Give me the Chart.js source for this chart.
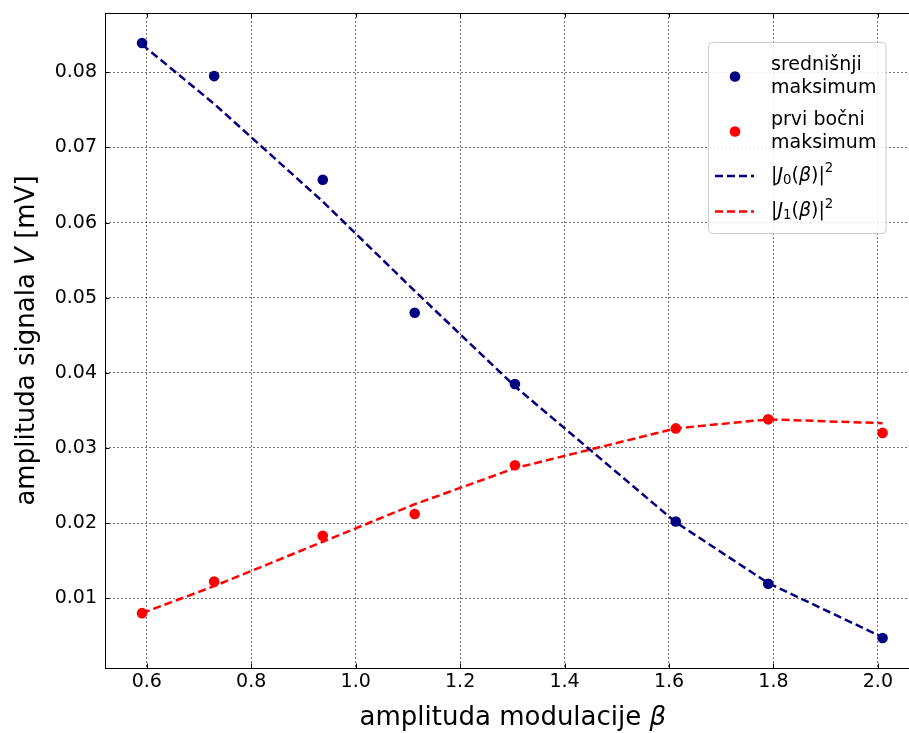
<!DOCTYPE html>
<html>
<head>
<meta charset="utf-8">
<script src="https://cdn.jsdelivr.net/npm/chart.js@4.4.1/dist/chart.umd.min.js"></script>
<style>
  html, body { margin: 0; padding: 0; background: #fff; overflow: hidden; }
  canvas { display: block; }
</style>
</head>
<body>
<canvas id="graf" width="926" height="733"></canvas>
<script>
// amplituda signala u ovisnosti o amplitudi modulacije beta
const beta = [0.591, 0.729, 0.937, 1.113, 1.305, 1.613, 1.790, 2.009];
const srednjiMaks = [0.0839, 0.0795, 0.0657, 0.0480, 0.0385, 0.0202, 0.0119, 0.0047];
const prviBocni = [0.0080, 0.0122, 0.0183, 0.0212, 0.0277, 0.0326, 0.0338, 0.0320];
const j0kvadrat = [0.0837, 0.0758, 0.0628, 0.0509, 0.0382, 0.0201, 0.0120, 0.0048];
const j1kvadrat = [0.0080, 0.0116, 0.0175, 0.0225, 0.0273, 0.0326, 0.0338, 0.0333];

const xTicks = [0.6, 0.8, 1.0, 1.2, 1.4, 1.6, 1.8, 2.0];
const yTicks = [0.01, 0.02, 0.03, 0.04, 0.05, 0.06, 0.07, 0.08];
const oznake = ["srednišnji\nmaksimum", "prvi bočni\nmaksimum", "|J₀(β)|²", "|J₁(β)|²"];

const PLAVA = "#000080";
const CRVENA = "#ff0000";
const FONT = "'DejaVu Sans', sans-serif";

const tocke = (ys) => beta.map((b, i) => ({ x: b, y: ys[i] }));

// tekst s kurzivom, indeksom i eksponentom (kao matplotlib mathtext)
function bogatiTekst(ctx, dijelovi, x, y, vel) {
  let cx = x;
  for (const d of dijelovi) {
    const s = d.sub || d.sup ? vel * 0.7 : vel;
    ctx.font = (d.it ? "italic " : "") + s + "px " + FONT;
    const dy = d.sub ? vel * 0.22 : d.sup ? -vel * 0.38 : 0;
    ctx.fillText(d.t, cx, y + dy);
    cx += ctx.measureText(d.t).width;
  }
}

function besselDijelovi(n) {
  return [{ t: "|" }, { t: "J", it: true }, { t: n, sub: true }, { t: "(" },
          { t: "β", it: true }, { t: ")|" }, { t: "2", sup: true }];
}

const okvir = {
  id: "okvir",
  afterDatasetsDraw(chart) {
    const { ctx, chartArea: a } = chart;
    ctx.save();
    ctx.strokeStyle = "#000";
    ctx.lineWidth = 1;
    ctx.strokeRect(a.left + 0.5, a.top + 0.5, a.right - a.left, a.bottom - a.top);
    // unutarnje crtice
    const xs = chart.scales.x, ys = chart.scales.y, L = 4.5;
    ctx.beginPath();
    xTicks.forEach((v) => {
      const p = Math.round(xs.getPixelForValue(v)) + 0.5;
      ctx.moveTo(p, a.bottom); ctx.lineTo(p, a.bottom - L);
      ctx.moveTo(p, a.top); ctx.lineTo(p, a.top + L);
    });
    yTicks.forEach((v) => {
      const p = Math.round(ys.getPixelForValue(v)) + 0.5;
      ctx.moveTo(a.left, p); ctx.lineTo(a.left + L, p);
      ctx.moveTo(a.right, p); ctx.lineTo(a.right - L, p);
    });
    ctx.stroke();
    ctx.restore();
  },
  afterDraw(chart) {
    const { ctx } = chart;
    ctx.save();
    // legenda
    const lx = 708.5, ly = 42.5, lw = 177.5, lh = 191;
    ctx.beginPath();
    ctx.roundRect(lx, ly, lw, lh, 4);
    ctx.fillStyle = "rgba(255,255,255,0.85)";
    ctx.fill();
    ctx.strokeStyle = "#cccccc";
    ctx.lineWidth = 1;
    ctx.stroke();

    const mx = 735, tx = 771;
    ctx.textBaseline = "middle";
    ctx.textAlign = "left";
    ctx.fillStyle = "#000";
    ctx.font = "19px " + FONT;
    [[PLAVA, 76.5], [CRVENA, 131.5]].forEach(([boja, cy], i) => {
      ctx.fillStyle = boja;
      ctx.beginPath(); ctx.arc(mx, cy, 5.3, 0, Math.PI * 2); ctx.fill();
      ctx.fillStyle = "#000";
      oznake[i].split("\n").forEach((r, k) => ctx.fillText(r, tx, cy - 11.5 + k * 23));
    });
    [[PLAVA, 176, "0"], [CRVENA, 211.5, "1"]].forEach(([boja, cy, n]) => {
      ctx.strokeStyle = boja;
      ctx.lineWidth = 2.5;
      ctx.setLineDash([8, 4]);
      ctx.beginPath(); ctx.moveTo(715, cy); ctx.lineTo(754, cy); ctx.stroke();
      ctx.setLineDash([]);
      ctx.fillStyle = "#000";
      bogatiTekst(ctx, besselDijelovi(n), tx, cy, 19);
    });

    // naslovi osi
    ctx.fillStyle = "#000";
    ctx.textAlign = "left";
    const a = chart.chartArea;
    const t1 = "amplituda modulacije ";
    ctx.font = "26px " + FONT;
    const w1 = ctx.measureText(t1).width;
    ctx.font = "italic 26px " + FONT;
    const w2 = ctx.measureText("β").width;
    const x0 = (a.left + a.right) / 2 - (w1 + w2) / 2;
    bogatiTekst(ctx, [{ t: t1 }, { t: "β", it: true }], x0, 718, 26);

    ctx.translate(27, (a.top + a.bottom) / 2);
    ctx.rotate(-Math.PI / 2);
    const dijelovi = [{ t: "amplituda signala " }, { t: "V", it: true }, { t: " [mV]" }];
    let w = 0;
    dijelovi.forEach((d) => { ctx.font = (d.it ? "italic " : "") + "26px " + FONT; w += ctx.measureText(d.t).width; });
    bogatiTekst(ctx, dijelovi, -w / 2, 0, 26);
    ctx.restore();
  },
};

new Chart(document.getElementById("graf"), {
  type: "scatter",
  data: {
    datasets: [
      { label: oznake[0], data: tocke(srednjiMaks), backgroundColor: PLAVA, borderWidth: 0, pointRadius: 5.3, order: 1 },
      { label: oznake[1], data: tocke(prviBocni), backgroundColor: CRVENA, borderWidth: 0, pointRadius: 5.3, order: 1 },
      { label: oznake[2], data: tocke(j0kvadrat), showLine: true, borderColor: PLAVA, borderWidth: 2.5,
        borderDash: [8, 4], pointRadius: 0, order: 2 },
      { label: oznake[3], data: tocke(j1kvadrat), showLine: true, borderColor: CRVENA, borderWidth: 2.5,
        borderDash: [8, 4], pointRadius: 0, order: 2 },
    ],
  },
  options: {
    responsive: false,
    animation: false,
    devicePixelRatio: 1,
    layout: { padding: { top: 13, right: 5, left: 0, bottom: 0 } },
    plugins: { legend: { display: false }, tooltip: { enabled: false } },
    scales: {
      x: {
        type: "linear", min: 0.52, max: 2.082,
        afterBuildTicks: (s) => { s.ticks = xTicks.map((v) => ({ value: v })); },
        afterFit: (s) => { s.height = 65; s.paddingLeft = 0; s.paddingRight = 0; },
        ticks: { color: "#000", font: { family: FONT, size: 19 }, padding: 3,
                 callback: (v) => v.toFixed(1) },
        grid: { color: "rgba(0,0,0,0.8)", lineWidth: 0.7, drawTicks: false },
        border: { display: false, dash: [2, 2] },
      },
      y: {
        type: "linear", min: 0.0007, max: 0.0879,
        afterBuildTicks: (s) => { s.ticks = yTicks.map((v) => ({ value: v })); },
        afterFit: (s) => { s.width = 105; s.paddingTop = 0; s.paddingBottom = 0; },
        ticks: { color: "#000", font: { family: FONT, size: 19 }, padding: 8,
                 callback: (v) => v.toFixed(2) },
        grid: { color: "rgba(0,0,0,0.8)", lineWidth: 0.7, drawTicks: false },
        border: { display: false, dash: [2, 2] },
      },
    },
  },
  plugins: [okvir],
});
</script>
</body>
</html>
